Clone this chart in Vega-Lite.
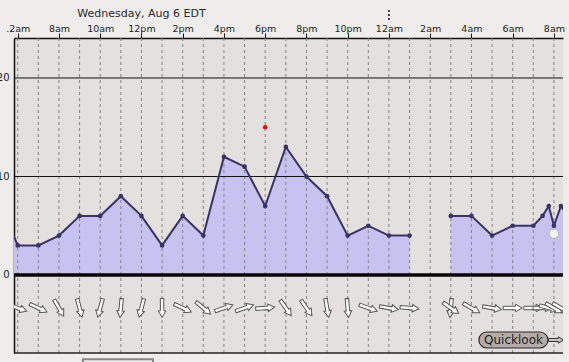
{
  "$schema": "https://vega.github.io/schema/vega-lite/v6.json",
  "autosize": {"type": "none"},
  "width": 549,
  "height": 315,
  "padding": {"left": 14, "top": 38, "right": 6, "bottom": 9},
  "background": "#efedeb",
  "config": {
    "view": {"stroke": null, "fill": "#e3e0dd"},
    "font": "DejaVu Sans"
  },
  "datasets": {
    "wind": [
      {"h": 5.5, "v": 5.5, "seg": 1},
      {"h": 6, "v": 3, "seg": 1},
      {"h": 7, "v": 3, "seg": 1},
      {"h": 8, "v": 4, "seg": 1},
      {"h": 9, "v": 6, "seg": 1},
      {"h": 10, "v": 6, "seg": 1},
      {"h": 11, "v": 8, "seg": 1},
      {"h": 12, "v": 6, "seg": 1},
      {"h": 13, "v": 3, "seg": 1},
      {"h": 14, "v": 6, "seg": 1},
      {"h": 15, "v": 4, "seg": 1},
      {"h": 16, "v": 12, "seg": 1},
      {"h": 17, "v": 11, "seg": 1},
      {"h": 18, "v": 7, "seg": 1},
      {"h": 19, "v": 13, "seg": 1},
      {"h": 20, "v": 10, "seg": 1},
      {"h": 21, "v": 8, "seg": 1},
      {"h": 22, "v": 4, "seg": 1},
      {"h": 23, "v": 5, "seg": 1},
      {"h": 24, "v": 4, "seg": 1},
      {"h": 25, "v": 4, "seg": 1},
      {"h": 27, "v": 6, "seg": 2},
      {"h": 28, "v": 6, "seg": 2},
      {"h": 29, "v": 4, "seg": 2},
      {"h": 30, "v": 5, "seg": 2},
      {"h": 31, "v": 5, "seg": 2},
      {"h": 31.45, "v": 6, "seg": 2},
      {"h": 31.75, "v": 7, "seg": 2},
      {"h": 32, "v": 5, "seg": 2},
      {"h": 32.34, "v": 7, "seg": 2},
      {"h": 32.7, "v": 6, "seg": 2}
    ],
    "hours": [
      {"h": 6}, {"h": 7}, {"h": 8}, {"h": 9}, {"h": 10}, {"h": 11}, {"h": 12}, {"h": 13}, {"h": 14},
      {"h": 15}, {"h": 16}, {"h": 17}, {"h": 18}, {"h": 19}, {"h": 20}, {"h": 21}, {"h": 22}, {"h": 23},
      {"h": 24}, {"h": 25}, {"h": 26}, {"h": 27}, {"h": 28}, {"h": 29}, {"h": 30}, {"h": 31}, {"h": 32}
    ],
    "levels": [{"v": 10}, {"v": 20}],
    "arrows": [
      {"h": 6, "angle": 20}, {"h": 7, "angle": 25}, {"h": 8, "angle": 60}, {"h": 9, "angle": 75},
      {"h": 10, "angle": 105}, {"h": 11, "angle": 95}, {"h": 12, "angle": 105}, {"h": 13, "angle": 90},
      {"h": 14, "angle": 25}, {"h": 15, "angle": 40}, {"h": 16, "angle": -20}, {"h": 17, "angle": -20},
      {"h": 18, "angle": -5}, {"h": 19, "angle": 55}, {"h": 20, "angle": 55}, {"h": 21, "angle": 80},
      {"h": 22, "angle": 85}, {"h": 23, "angle": 20}, {"h": 24, "angle": 10}, {"h": 25, "angle": 5},
      {"h": 27, "angle": 95}, {"h": 27, "angle": 35}, {"h": 28, "angle": 30}, {"h": 29, "angle": 10},
      {"h": 30, "angle": 0}, {"h": 31, "angle": 0}, {"h": 31.45, "angle": 0}, {"h": 31.75, "angle": 15},
      {"h": 32, "angle": 30}, {"h": 32.34, "angle": 30}
    ],
    "forecast": [{"h": 18, "v": 15}],
    "labels": [
      {"h": 12, "v": 26.5, "label": "Wednesday, Aug 6 EDT", "kind": "title"},
      {"h": 30.04, "v": -6.6, "label": "Quicklook", "kind": "button"}
    ]
  },
  "layer": [
    {
      "data": {"name": "wind"},
      "mark": {"type": "area", "color": "#c8c2f1", "clip": true, "opacity": 1},
      "encoding": {
        "x": {
          "field": "h", "type": "quantitative", "title": null,
          "scale": {"domain": [5.82, 32.44], "nice": false, "zero": false},
          "axis": {
            "orient": "top",
            "values": [6, 7, 8, 9, 10, 11, 12, 13, 14, 15, 16, 17, 18, 19, 20, 21, 22, 23, 24, 25, 26, 27, 28, 29, 30, 31, 32],
            "labelExpr": "datum.value == 6 ? '.2am' : datum.value % 2 == 1 ? '' : (datum.value % 24 == 0 ? '12am' : datum.value % 24 < 12 ? (datum.value % 24) + 'am' : datum.value % 24 == 12 ? '12pm' : (datum.value % 24 - 12) + 'pm')",
            "grid": false, "tickSize": 5, "tickColor": "#111", "tickWidth": 1,
            "domainColor": "#111", "domainWidth": 1.5,
            "labelFont": "DejaVu Sans", "labelFontSize": 9.5, "labelColor": "#222",
            "labelBaseline": "alphabetic", "labelPadding": 1.5,
            "labelFlush": false, "labelOverlap": false, "labelBound": false
          }
        },
        "y": {
          "field": "v", "type": "quantitative", "title": null,
          "scale": {"domain": [-7.92, 24.06], "nice": false, "zero": false},
          "axis": {
            "orient": "left", "values": [0, 10, 20],
            "grid": false, "ticks": false, "domainColor": "#111", "domainWidth": 1.5,
            "labelFont": "DejaVu Sans", "labelFontSize": 10, "labelColor": "#222",
            "labelPadding": 5, "labelBaseline": "middle"
          }
        },
        "y2": {"datum": 0},
        "detail": {"field": "seg", "type": "nominal"}
      }
    },
    {
      "data": {"name": "hours"},
      "mark": {"type": "rule", "color": "#858381", "strokeWidth": 1, "strokeDash": [3, 3]},
      "encoding": {"x": {"field": "h", "type": "quantitative", "title": null}}
    },
    {
      "data": {"name": "levels"},
      "mark": {"type": "rule", "color": "#111", "strokeWidth": 1},
      "encoding": {"y": {"field": "v", "type": "quantitative", "title": null}}
    },
    {
      "data": {"name": "forecast"},
      "mark": {"type": "rule", "color": "#050505", "strokeWidth": 3.5},
      "encoding": {"y": {"datum": 0, "type": "quantitative"}}
    },
    {
      "data": {"name": "forecast"},
      "mark": {"type": "rule", "color": "#222", "strokeWidth": 1.5},
      "encoding": {"y": {"datum": -7.92, "type": "quantitative"}}
    },
    {
      "data": {"name": "wind"},
      "mark": {"type": "line", "color": "#3a3366", "strokeWidth": 2, "clip": true},
      "encoding": {
        "x": {"field": "h", "type": "quantitative", "title": null},
        "y": {"field": "v", "type": "quantitative", "title": null},
        "detail": {"field": "seg", "type": "nominal"}
      }
    },
    {
      "data": {"name": "wind"},
      "transform": [{"filter": "datum.h >= 6 && datum.h <= 32.4"}],
      "mark": {"type": "point", "filled": true, "color": "#3a3366", "size": 22, "opacity": 1},
      "encoding": {
        "x": {"field": "h", "type": "quantitative", "title": null},
        "y": {"field": "v", "type": "quantitative", "title": null}
      }
    },
    {
      "data": {"name": "forecast"},
      "mark": {"type": "point", "filled": true, "color": "#e01010", "size": 22, "opacity": 1},
      "encoding": {
        "x": {"field": "h", "type": "quantitative", "title": null},
        "y": {"field": "v", "type": "quantitative", "title": null}
      }
    },
    {
      "data": {"name": "forecast"},
      "mark": {"type": "point", "filled": true, "color": "#f3f2f1", "stroke": "#b8b6b4", "strokeWidth": 1, "size": 90, "opacity": 1},
      "encoding": {"x": {"datum": 32, "type": "quantitative"}, "y": {"datum": 4.2, "type": "quantitative"}}
    },
    {
      "data": {"name": "arrows"},
      "mark": {
        "type": "point", "filled": true, "fill": "#ffffff", "stroke": "#555555", "strokeWidth": 1,
        "opacity": 1, "size": 360, "clip": true,
        "shape": "M-1,-0.18L0.3,-0.18L0.3,-0.4L1,0L0.3,0.4L0.3,0.18L-1,0.18Z"
      },
      "encoding": {
        "x": {"field": "h", "type": "quantitative", "title": null},
        "y": {"datum": -3.35, "type": "quantitative"},
        "angle": {"field": "angle", "type": "quantitative", "scale": null}
      }
    },
    {
      "data": {"name": "forecast"},
      "mark": {"type": "rect", "fill": "#b4aca8", "stroke": "#2e2a28", "strokeWidth": 1.2, "cornerRadius": 8},
      "encoding": {
        "x": {"datum": 28.36, "type": "quantitative"}, "x2": {"datum": 31.71},
        "y": {"datum": -5.79, "type": "quantitative"}, "y2": {"datum": -7.41}
      }
    },
    {
      "data": {"name": "forecast"},
      "mark": {
        "type": "point", "filled": true, "fill": "#c8c4c0", "stroke": "#333", "strokeWidth": 1,
        "opacity": 1, "size": 230, "clip": true,
        "shape": "M-1,-0.2L0.3,-0.2L0.3,-0.42L1,0L0.3,0.42L0.3,0.2L-1,0.2Z"
      },
      "encoding": {"x": {"datum": 32.1, "type": "quantitative"}, "y": {"datum": -6.6, "type": "quantitative"}}
    },
    {
      "data": {"name": "forecast"},
      "mark": {"type": "rect", "fill": "#eceae8", "stroke": "#8a8581", "strokeWidth": 2},
      "encoding": {
        "x": {"datum": 9.16, "type": "quantitative"}, "x2": {"datum": 12.56},
        "y": {"datum": -8.55, "type": "quantitative"}, "y2": {"datum": -9.6}
      }
    },
    {
      "data": {"name": "labels"},
      "transform": [{"filter": "datum.kind == 'title'"}],
      "mark": {"type": "text", "font": "DejaVu Sans", "fontSize": 11, "color": "#2a2a2a", "align": "center", "baseline": "middle"},
      "encoding": {
        "x": {"field": "h", "type": "quantitative", "title": null},
        "y": {"field": "v", "type": "quantitative", "title": null},
        "text": {"field": "label"}
      }
    },
    {
      "data": {"name": "labels"},
      "transform": [{"filter": "datum.kind == 'button'"}],
      "mark": {"type": "text", "font": "DejaVu Sans", "fontSize": 12, "color": "#1e1c1b", "align": "center", "baseline": "middle"},
      "encoding": {
        "x": {"field": "h", "type": "quantitative", "title": null},
        "y": {"field": "v", "type": "quantitative", "title": null},
        "text": {"field": "label"}
      }
    },
    {
      "data": {"name": "forecast"},
      "mark": {"type": "rule", "color": "#111", "strokeWidth": 1.5, "strokeDash": [2, 2]},
      "encoding": {
        "x": {"datum": 24, "type": "quantitative"},
        "y": {"datum": 25.9, "type": "quantitative"}, "y2": {"datum": 27.1}
      }
    }
  ]
}
